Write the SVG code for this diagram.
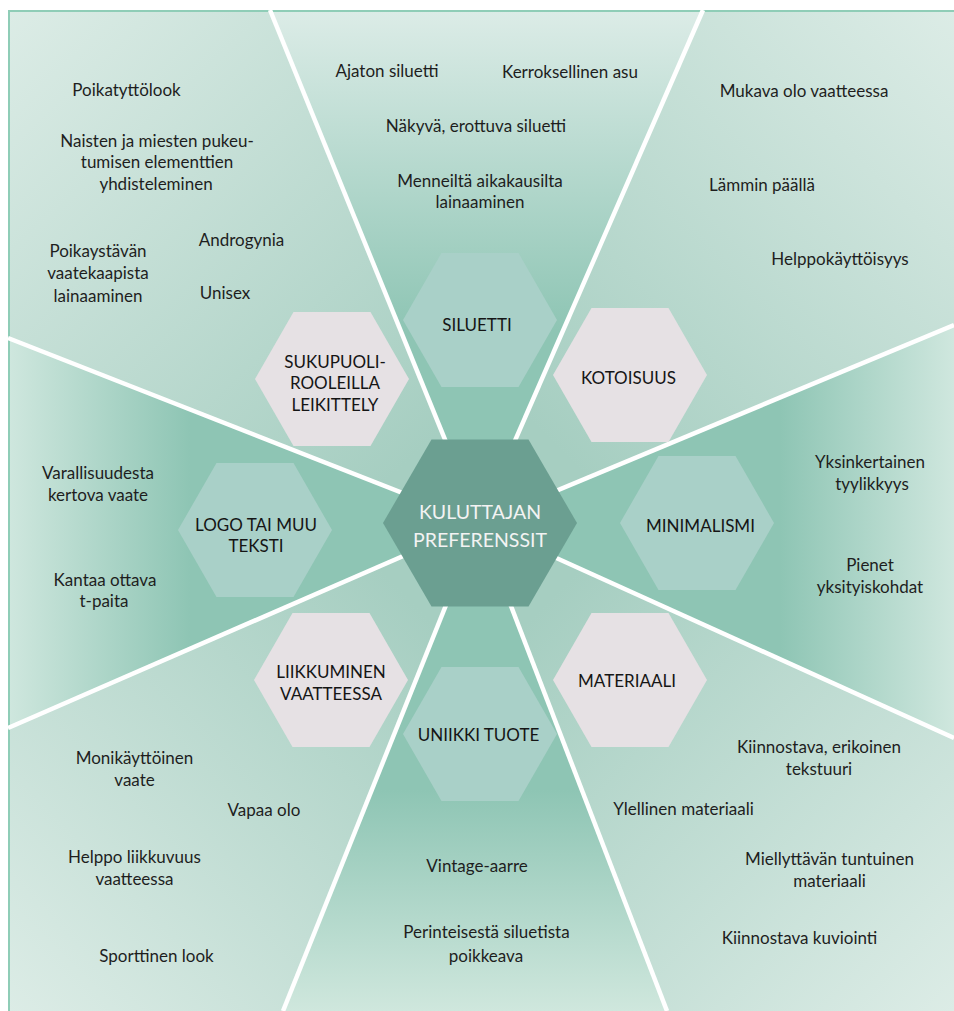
<svg xmlns="http://www.w3.org/2000/svg" width="954" height="1011" viewBox="0 0 954 1011">
<defs>
<linearGradient id="gTop" gradientUnits="userSpaceOnUse" x1="0" y1="10" x2="0" y2="330"><stop offset="0" stop-color="#dcece7"/><stop offset="1" stop-color="#8ec5b4"/></linearGradient>
<linearGradient id="gBottom" gradientUnits="userSpaceOnUse" x1="0" y1="1011" x2="0" y2="790"><stop offset="0" stop-color="#cfe7dd"/><stop offset="1" stop-color="#8ec5b4"/></linearGradient>
<linearGradient id="gLeft" gradientUnits="userSpaceOnUse" x1="8" y1="0" x2="190" y2="0"><stop offset="0" stop-color="#cfe7de"/><stop offset="1" stop-color="#8ec5b4"/></linearGradient>
<linearGradient id="gRight" gradientUnits="userSpaceOnUse" x1="954" y1="0" x2="780" y2="0"><stop offset="0" stop-color="#cfe7de"/><stop offset="1" stop-color="#8ec5b4"/></linearGradient>
<linearGradient id="gTL" gradientUnits="userSpaceOnUse" x1="8" y1="10" x2="420" y2="450"><stop offset="0" stop-color="#dcece6"/><stop offset="1" stop-color="#a6cec1"/></linearGradient>
<linearGradient id="gTR" gradientUnits="userSpaceOnUse" x1="954" y1="10" x2="540" y2="430"><stop offset="0" stop-color="#dcece6"/><stop offset="1" stop-color="#a6cec1"/></linearGradient>
<linearGradient id="gBL" gradientUnits="userSpaceOnUse" x1="8" y1="1011" x2="420" y2="610"><stop offset="0" stop-color="#dcece6"/><stop offset="1" stop-color="#a6cec1"/></linearGradient>
<linearGradient id="gBR" gradientUnits="userSpaceOnUse" x1="954" y1="1011" x2="540" y2="610"><stop offset="0" stop-color="#dcece6"/><stop offset="1" stop-color="#a6cec1"/></linearGradient>
</defs>
<style>
.t{font-family:Lato,"Liberation Sans",sans-serif;font-size:17px;fill:#1e1e1e;text-anchor:middle}
.h{font-family:Lato,"Liberation Sans",sans-serif;font-size:17px;fill:#151515;text-anchor:middle}
.c{font-family:Lato,"Liberation Sans",sans-serif;font-size:19.5px;fill:#f3f3f3;text-anchor:middle}
.pink{fill:#e6e1e4}
.teal{fill:#a9d0c8}
.core{fill:#6b9f91}
.sep{stroke:#ffffff;stroke-width:4.5;fill:none}
</style>
<g id="background">
<rect x="9" y="11" width="950" height="1005" fill="#a9cfc3"/>
<polygon points="479,523 270,10 703,10" fill="url(#gTop)"/>
<polygon points="479,523 270,10 8,10 8,338" fill="url(#gTL)"/>
<polygon points="479,523 703,10 954,10 954,325" fill="url(#gTR)"/>
<polygon points="479,523 954,325 954,738" fill="url(#gRight)"/>
<polygon points="479,523 954,738 954,1011 667,1011" fill="url(#gBR)"/>
<polygon points="479,523 667,1011 283,1011" fill="url(#gBottom)"/>
<polygon points="479,523 283,1011 8,1011 8,728" fill="url(#gBL)"/>
<polygon points="479,523 8,728 8,338" fill="url(#gLeft)"/>
<rect x="9" y="11" width="950" height="1005" fill="none" stroke="#8fcdb7" stroke-width="2"/>
</g>
<g id="connectors">
<line class="sep" x1="479" y1="523" x2="270" y2="10"/>
<line class="sep" x1="479" y1="523" x2="703" y2="10"/>
<line class="sep" x1="479" y1="523" x2="954" y2="325"/>
<line class="sep" x1="479" y1="523" x2="954" y2="738"/>
<line class="sep" x1="479" y1="523" x2="667" y2="1011"/>
<line class="sep" x1="479" y1="523" x2="283" y2="1011"/>
<line class="sep" x1="479" y1="523" x2="8" y2="728"/>
<line class="sep" x1="479" y1="523" x2="8" y2="338"/>
</g>
<g id="siluetti">
<polygon class="teal" points="403,320 441.5,253 518.5,253 557,320 518.5,387 441.5,387"/>
<text class="h" x="477" y="331">SILUETTI</text>
<text class="t" x="387" y="77">Ajaton siluetti</text>
<text class="t" x="570" y="78">Kerroksellinen asu</text>
<text class="t" x="476" y="132">Näkyvä, erottuva siluetti</text>
<text class="t" x="480" y="187">Menneiltä aikakausilta</text>
<text class="t" x="480" y="208">lainaaminen</text>
</g>
<g id="sukupuoliroolit">
<polygon class="pink" points="255,379 293.5,312 370.5,312 409,379 370.5,446 293.5,446"/>
<text class="h" x="335" y="368">SUKUPUOLI-</text>
<text class="h" x="335" y="389">ROOLEILLA</text>
<text class="h" x="335" y="411">LEIKITTELY</text>
<text class="t" x="126.5" y="96">Poikatyttölook</text>
<text class="t" x="157" y="147">Naisten ja miesten pukeu-</text>
<text class="t" x="157" y="168">tumisen elementtien</text>
<text class="t" x="156" y="190">yhdisteleminen</text>
<text class="t" x="241.5" y="246">Androgynia</text>
<text class="t" x="98" y="257">Poikaystävän</text>
<text class="t" x="98" y="279">vaatekaapista</text>
<text class="t" x="98" y="302">lainaaminen</text>
<text class="t" x="225" y="299">Unisex</text>
</g>
<g id="kotoisuus">
<polygon class="pink" points="553,375 591.5,308 668.5,308 707,375 668.5,442 591.5,442"/>
<text class="h" x="628.5" y="384">KOTOISUUS</text>
<text class="t" x="804" y="97">Mukava olo vaatteessa</text>
<text class="t" x="762" y="191">Lämmin päällä</text>
<text class="t" x="840" y="265">Helppokäyttöisyys</text>
</g>
<g id="minimalismi">
<polygon class="teal" points="620,523 658.5,456 735.5,456 774,523 735.5,590 658.5,590"/>
<text class="h" x="700.5" y="532">MINIMALISMI</text>
<text class="t" x="870" y="468">Yksinkertainen</text>
<text class="t" x="872" y="490">tyylikkyys</text>
<text class="t" x="870" y="571">Pienet</text>
<text class="t" x="870" y="593">yksityiskohdat</text>
</g>
<g id="logo">
<polygon class="teal" points="178,530 216.5,463 293.5,463 332,530 293.5,597 216.5,597"/>
<text class="h" x="256" y="531">LOGO TAI MUU</text>
<text class="h" x="256" y="552">TEKSTI</text>
<text class="t" x="98" y="479">Varallisuudesta</text>
<text class="t" x="98" y="501">kertova vaate</text>
<text class="t" x="105" y="586">Kantaa ottava</text>
<text class="t" x="104" y="607">t-paita</text>
</g>
<g id="liikkuminen">
<polygon class="pink" points="254,680 292.5,613 369.5,613 408,680 369.5,747 292.5,747"/>
<text class="h" x="331" y="678">LIIKKUMINEN</text>
<text class="h" x="331" y="700">VAATTEESSA</text>
<text class="t" x="134.5" y="764">Monikäyttöinen</text>
<text class="t" x="134.5" y="786">vaate</text>
<text class="t" x="264" y="816">Vapaa olo</text>
<text class="t" x="134.5" y="863">Helppo liikkuvuus</text>
<text class="t" x="134.5" y="885">vaatteessa</text>
<text class="t" x="156.5" y="962">Sporttinen look</text>
</g>
<g id="materiaali">
<polygon class="pink" points="553,680 591.5,613 668.5,613 707,680 668.5,747 591.5,747"/>
<text class="h" x="627" y="687">MATERIAALI</text>
<text class="t" x="819" y="753">Kiinnostava, erikoinen</text>
<text class="t" x="819" y="775">tekstuuri</text>
<text class="t" x="683.5" y="815">Ylellinen materiaali</text>
<text class="t" x="829.5" y="865">Miellyttävän tuntuinen</text>
<text class="t" x="829.5" y="887">materiaali</text>
<text class="t" x="799.5" y="944">Kiinnostava kuviointi</text>
</g>
<g id="uniikki">
<polygon class="teal" points="403,734 441.5,667 518.5,667 557,734 518.5,801 441.5,801"/>
<text class="h" x="478.5" y="741">UNIIKKI TUOTE</text>
<text class="t" x="477" y="872">Vintage-aarre</text>
<text class="t" x="486.5" y="938">Perinteisestä siluetista</text>
<text class="t" x="486" y="962">poikkeava</text>
</g>
<g id="kuluttajan-preferenssit">
<polygon class="core" points="383,523 431.5,439.5 528.5,439.5 577,523 528.5,606.5 431.5,606.5"/>
<text class="c" x="480" y="519">KULUTTAJAN</text>
<text class="c" x="480" y="547">PREFERENSSIT</text>
</g>
</svg>
